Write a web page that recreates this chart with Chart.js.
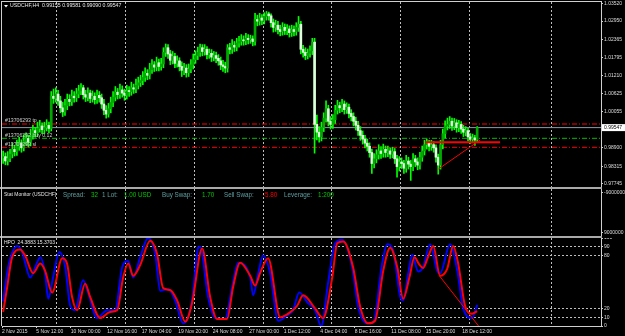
<!DOCTYPE html>
<html><head><meta charset="utf-8">
<script src="https://cdn.jsdelivr.net/npm/chart.js@4.4.1/dist/chart.umd.min.js"></script>
<style>
html,body{margin:0;padding:0;background:#000;width:625px;height:336px;overflow:hidden;position:relative}
canvas{position:absolute;left:0}
#cMain{top:0}#cStat{top:189px}#cHpo{top:238px}
.sep{position:absolute;left:0;width:602px;height:2px;background:#a9a9a9}
.fr{position:absolute;background:#cfcfcf}
</style></head><body>
<canvas id="cMain" width="625" height="187"></canvas>
<canvas id="cStat" width="625" height="47"></canvas>
<canvas id="cHpo" width="625" height="98"></canvas>
<div class="sep" style="top:187px"></div>
<div class="sep" style="top:236px"></div>
<div class="fr" style="left:1px;top:1px;width:601px;height:1px"></div>
<div class="fr" style="left:1px;top:1px;width:1px;height:325px"></div>
<script>
// ---------------- data ----------------
const barOpen = [
0.9858,0.9862,0.9848,0.9856,0.9870,0.9885,0.9878,0.9896,0.9905,0.9890,
0.9912,0.9920,0.9908,0.9930,0.9945,0.9938,0.9952,0.9960,0.9948,0.9955,
0.9962,0.9952,1.0055,1.0048,1.0062,1.0040,1.0018,1.0005,1.0025,1.0045,
1.0038,1.0055,1.0050,1.0062,1.0072,1.0082,1.0060,1.0052,1.0065,1.0048,
1.0055,1.0044,1.0058,1.0050,1.0030,1.0010,0.9998,1.0015,1.0035,1.0052,
1.0068,1.0060,1.0075,1.0065,1.0058,1.0072,1.0070,1.0082,1.0078,1.0090,
1.0098,1.0105,1.0115,1.0128,1.0122,1.0140,1.0155,1.0148,1.0162,1.0150,
1.0158,1.0195,1.0210,1.0190,1.0170,1.0182,1.0160,1.0168,1.0150,1.0138,
1.0145,1.0130,1.0142,1.0155,1.0172,1.0185,1.0195,1.0210,1.0198,1.0205,
1.0188,1.0192,1.0180,1.0185,1.0176,1.0168,1.0155,1.0150,1.0145,1.0210,
1.0205,1.0218,1.0212,1.0225,1.0230,1.0235,1.0232,1.0240,1.0236,1.0238,
1.0230,1.0300,1.0295,1.0305,1.0298,1.0310,1.0318,1.0312,1.0290,1.0275,
1.0282,1.0268,1.0262,1.0275,1.0265,1.0270,1.0258,1.0268,1.0262,1.0275,
1.0285,1.0205,1.0195,1.0185,1.0192,1.0200,1.0228,0.9965,0.9940,0.9925,
0.9955,0.9985,1.0015,0.9975,0.9965,0.9980,1.0010,1.0025,1.0018,1.0030,
1.0012,1.0020,1.0000,0.9990,0.9975,0.9962,0.9945,0.9930,0.9918,0.9905,
0.9895,0.9875,0.9840,0.9855,0.9868,0.9880,0.9872,0.9885,0.9875,0.9880,
0.9870,0.9878,0.9855,0.9830,0.9845,0.9840,0.9825,0.9848,0.9838,0.9830,
0.9855,0.9845,0.9835,0.9860,0.9880,0.9900,0.9905,0.9895,0.9900,0.9890,
0.9860,0.9835,0.9900,0.9935,0.9960,0.9965,0.9975,0.9960,0.9970,0.9955,
0.9965,0.9950,0.9940,0.9945,0.9925,0.9918,0.9922,0.99155];
const barHigh = [
0.9880,0.9874,0.9878,0.9885,0.9905,0.9898,0.9915,0.9924,0.9916,0.9932,
0.9938,0.9930,0.9950,0.9962,0.9955,0.9972,0.9978,0.9970,0.9972,0.9980,
0.9972,1.0070,1.0078,1.0082,1.0074,1.0055,1.0036,1.0045,1.0062,1.0060,
1.0075,1.0070,1.0080,1.0090,1.0095,1.0090,1.0074,1.0082,1.0075,1.0072,
1.0066,1.0075,1.0070,1.0062,1.0045,1.0025,1.0032,1.0052,1.0070,1.0086,
1.0080,1.0094,1.0088,1.0078,1.0090,1.0086,1.0100,1.0094,1.0110,1.0116,
1.0122,1.0134,1.0146,1.0140,1.0160,1.0172,1.0166,1.0180,1.0174,1.0176,
1.0210,1.0222,1.0220,1.0202,1.0198,1.0192,1.0184,1.0178,1.0165,1.0160,
1.0156,1.0158,1.0172,1.0190,1.0200,1.0212,1.0222,1.0220,1.0220,1.0214,
1.0206,1.0204,1.0198,1.0196,1.0188,1.0180,1.0170,1.0164,1.0220,1.0224,
1.0236,1.0230,1.0240,1.0246,1.0252,1.0248,1.0256,1.0252,1.0250,1.0248,
1.0320,1.0314,1.0320,1.0316,1.0322,1.0326,1.0324,1.0318,1.0302,1.0298,
1.0294,1.0282,1.0290,1.0286,1.0284,1.0280,1.0282,1.0280,1.0290,1.0310,
1.0294,1.0218,1.0210,1.0206,1.0216,1.0240,1.0240,0.9995,0.9958,0.9972,
1.0002,1.0040,1.0026,0.9990,0.9996,1.0026,1.0042,1.0036,1.0045,1.0040,
1.0034,1.0030,1.0012,1.0002,0.9988,0.9975,0.9958,0.9944,0.9930,0.9918,
0.9906,0.9886,0.9872,0.9884,0.9900,0.9894,0.9902,0.9896,0.9896,0.9890,
0.9892,0.9888,0.9866,0.9862,0.9858,0.9850,0.9866,0.9860,0.9850,0.9872,
0.9866,0.9858,0.9876,0.9896,0.9914,0.9918,0.9914,0.9914,0.9910,0.9900,
0.9870,0.9914,0.9950,0.9976,0.9985,0.9990,0.9985,0.9984,0.9980,0.9978,
0.9974,0.9962,0.9958,0.9952,0.9936,0.9934,0.9930,0.99581];
const barLow = [
0.9840,0.9836,0.9835,0.9846,0.9858,0.9864,0.9866,0.9882,0.9876,0.9880,
0.9898,0.9892,0.9896,0.9918,0.9924,0.9926,0.9940,0.9935,0.9936,0.9944,
0.9938,0.9944,1.0032,1.0036,1.0026,1.0002,0.9990,0.9994,1.0012,1.0024,
1.0026,1.0036,1.0038,1.0050,1.0060,1.0046,1.0038,1.0040,1.0034,1.0036,
1.0030,1.0032,1.0036,1.0016,0.9996,0.9985,0.9988,1.0002,1.0022,1.0040,
1.0046,1.0048,1.0052,1.0042,1.0046,1.0054,1.0058,1.0064,1.0066,1.0078,
1.0086,1.0092,1.0102,1.0108,1.0110,1.0128,1.0134,1.0136,1.0136,1.0138,
1.0146,1.0182,1.0176,1.0156,1.0158,1.0146,1.0148,1.0136,1.0118,1.0124,
1.0116,1.0118,1.0130,1.0142,1.0160,1.0172,1.0182,1.0184,1.0186,1.0174,
1.0176,1.0166,1.0168,1.0162,1.0154,1.0140,1.0134,1.0130,1.0132,1.0190,
1.0192,1.0198,1.0200,1.0212,1.0218,1.0218,1.0220,1.0222,1.0224,1.0216,
1.0218,1.0280,1.0282,1.0284,1.0286,1.0298,1.0298,1.0276,1.0260,1.0262,
1.0254,1.0248,1.0250,1.0252,1.0252,1.0244,1.0246,1.0248,1.0250,1.0262,
1.0190,1.0180,1.0172,1.0174,1.0180,1.0188,0.9873,0.9915,0.9908,0.9912,
0.9942,0.9972,0.9960,0.9950,0.9952,0.9968,0.9998,1.0002,1.0006,0.9998,
1.0000,0.9986,0.9976,0.9960,0.9947,0.9930,0.9914,0.9902,0.9890,0.9880,
0.9860,0.9808,0.9826,0.9842,0.9854,0.9856,0.9860,0.9860,0.9862,0.9856,
0.9858,0.9840,0.9796,0.9816,0.9824,0.9808,0.9812,0.9822,0.9786,0.9817,
0.9830,0.9820,0.9822,0.9847,0.9867,0.9886,0.9880,0.9882,0.9876,0.9844,
0.9806,0.9822,0.9887,0.9922,0.9947,0.9952,0.9946,0.9948,0.9940,0.9942,
0.9936,0.9926,0.9928,0.9912,0.9904,0.9906,0.9898,0.99090];
const barClose = [
0.9862,0.9848,0.9856,0.9870,0.9885,0.9878,0.9896,0.9905,0.9890,0.9912,
0.9920,0.9908,0.9930,0.9945,0.9938,0.9952,0.9960,0.9948,0.9955,0.9962,
0.9952,1.0055,1.0048,1.0062,1.0040,1.0018,1.0005,1.0025,1.0045,1.0038,
1.0055,1.0050,1.0062,1.0072,1.0082,1.0060,1.0052,1.0065,1.0048,1.0055,
1.0044,1.0058,1.0050,1.0030,1.0010,0.9998,1.0015,1.0035,1.0052,1.0068,
1.0060,1.0075,1.0065,1.0058,1.0072,1.0070,1.0082,1.0078,1.0090,1.0098,
1.0105,1.0115,1.0128,1.0122,1.0140,1.0155,1.0148,1.0162,1.0150,1.0158,
1.0195,1.0210,1.0190,1.0170,1.0182,1.0160,1.0168,1.0150,1.0138,1.0145,
1.0130,1.0142,1.0155,1.0172,1.0185,1.0195,1.0210,1.0198,1.0205,1.0188,
1.0192,1.0180,1.0185,1.0176,1.0168,1.0155,1.0150,1.0145,1.0210,1.0205,
1.0218,1.0212,1.0225,1.0230,1.0235,1.0232,1.0240,1.0236,1.0238,1.0230,
1.0300,1.0295,1.0305,1.0298,1.0310,1.0318,1.0312,1.0290,1.0275,1.0282,
1.0268,1.0262,1.0275,1.0265,1.0270,1.0258,1.0268,1.0262,1.0275,1.0285,
1.0205,1.0195,1.0185,1.0192,1.0200,1.0228,0.9965,0.9940,0.9925,0.9955,
0.9985,1.0015,0.9975,0.9965,0.9980,1.0010,1.0025,1.0018,1.0030,1.0012,
1.0020,1.0000,0.9990,0.9975,0.9962,0.9945,0.9930,0.9918,0.9905,0.9895,
0.9875,0.9840,0.9855,0.9868,0.9880,0.9872,0.9885,0.9875,0.9880,0.9870,
0.9878,0.9855,0.9830,0.9845,0.9840,0.9825,0.9848,0.9838,0.9830,0.9855,
0.9845,0.9835,0.9860,0.9880,0.9900,0.9905,0.9895,0.9900,0.9890,0.9860,
0.9835,0.9900,0.9935,0.9960,0.9965,0.9975,0.9960,0.9970,0.9955,0.9965,
0.9950,0.9940,0.9945,0.9925,0.9918,0.9922,0.99155,0.99547];

const priceTicks = [1.03520,1.02950,1.02365,1.01795,1.01210,1.00625,1.00055,0.99470,0.98900,0.98315,0.97745];
const weekGridBars = [23.5,53.5,83.5,113.5,143.5,173.5,203.5,239.5];
const timeTickBars = [-0.5,14.5,29.5,45.5,60.5,76.5,91.5,107.5,122.5,138.5,153.5,169.5,184.5,200.5];
const timeTickLabels = ['2 Nov 2015','5 Nov 12:00','10 Nov 00:00','12 Nov 16:00','17 Nov 04:00','19 Nov 20:00','24 Nov 08:00','27 Nov 00:00','1 Dec 12:00','4 Dec 04:00','8 Dec 16:00','11 Dec 08:00','15 Dec 20:00','18 Dec 12:00'];

const tpPrice = 0.99662, buyPrice = 0.99205, slPrice = 0.98917, bidPrice = 0.99547;
const orderLabels = ['#13706293 tp','#13706293 buy 0.12','#13706293 sl'];
const titleText = 'USDCHF,H4  0.99155 0.99581 0.99090 0.99547';
const mainTrendBars = [190.1,208.3], mainTrendPrices = [0.98224,0.99151];
const hLineBars = [184.3,217], hLinePrices = [0.99077,0.99077];

const statLabels = ['-9000000','9000000'];

const hpoTitle = 'HPO  24.3883 15.3703';
const hpoLevels = [0,10,20,80,90,100];
const hpoSignalBars = [0,1.7,3.9,7.4,9.6,13.1,16.2,18.3,21.4,25.8,27.9,30.1,32.3,35.8,38,42.4,46.7,49.8,52.4,54.6,56.8,59.8,64.2,67.2,69.9,72.9,76,79.5,82.5,86.9,90.4,93.4,97.8,100.4,103.5,107.9,110,112.2,115.7,121,124.5,128.4,131,136.2,139.7,143.7,145.9,148.5,152.8,155.9,159.4,162.4,166,169,172.1,174.7,177.4,179.6,181.7,183.4,185.5,187.8,190.8,193.9,196.5,198.7,201.7,204.8,207];
const hpoSignal = [16,43,78,87,80,60,71,63,38,77,71,33,18,48,33,9,16,18,55,71,57,69,97,82,43,41,29,5,26,88,33,8,8,44,72,57,46,60,77,10,14,23,35,20,9,55,94,96,67,22,3,6,63,89,67,31,55,78,70,66,78,91,57,65,91,71,23,14,17];
const hpoMainBars = [0,2.2,3.9,6.1,8.3,9.6,11.8,14.8,16.2,18.3,19.7,21.8,24.5,27.1,29.3,31.4,34.9,37.1,41,45.4,48.9,52,54.6,56.8,59.8,63.3,66.4,68.6,72.1,75.1,78.6,82.5,85.2,86,89.5,92.6,96.9,100,102.6,107.9,109.2,111.4,113.5,116.6,120.1,124,126.6,129.3,132.8,136.2,138.9,141.9,145,148,152.4,155,159,161.6,165.5,167.7,170.3,173.4,174.7,176.9,178.6,181.2,183.4,186.5,189.5,190.8,195.2,198.3,200.9,204.8,207];
const hpoMain = [28,67,83,91,84,72,55,72,78,60,31,55,84,67,23,18,52,38,9,18,18,67,74,55,78,100,82,40,42,29,3,29,89,90,33,9,8,44,72,55,35,60,80,60,6,12,18,38,27,18,0,49,94,98,67,22,3,4,71,93,86,33,29,60,81,62,67,93,63,60,93,63,20,9,24];
const hpoTrendBars = [190.5,207.6], hpoTrendVals = [57,0];

// ---------------- style ----------------
const FONT = "'Liberation Sans', Arial, sans-serif";
const XMIN = -0.5, XMAX = 261.07;
const frameColor = '#cfcfcf', gridColor = '#bdbdbd', labelColor = '#dedede';
const wickColor = '#00ff00', bullBody = '#00a800', bearBody = '#dcffdc';

function xGrid() {
  return { type:'linear', min:XMIN, max:XMAX, offset:false,
    ticks:{display:false},
    grid:{display:true, drawOnChartArea:true, drawTicks:false, color:gridColor, lineWidth:1, offset:false},
    border:{display:false, dash:[2,2]},
    afterBuildTicks:s=>{ s.ticks = weekGridBars.map(v=>({value:v})); },
    afterFit:s=>{ s.height=0; s.paddingLeft=0; s.paddingRight=0; } };
}
function yRight(min, max, values, cb) {
  return { type:'linear', position:'right', min, max,
    afterBuildTicks:s=>{ s.ticks = values.map(v=>({value:v})); },
    ticks:{color:labelColor, font:{family:FONT,size:5}, padding:1, autoSkip:false, callback:cb},
    grid:{drawOnChartArea:false, drawTicks:true, tickLength:2, tickColor:frameColor},
    border:{display:true, color:frameColor, width:1},
    afterFit:s=>{ s.width=24; s.paddingTop=0; s.paddingBottom=0; } };
}
const pts = (xs, ys) => xs.map((x,i)=>({x, y:ys[i]}));
const flat = (p) => [{x:XMIN,y:p},{x:XMAX,y:p}];
const base = { responsive:false, animation:false, devicePixelRatio:1, events:[],
  plugins:{legend:{display:false}, tooltip:{enabled:false}} };

// ---------------- main price chart ----------------
const mainText = { id:'mainText',
  afterDraw(chart){
    const c = chart.ctx, ys = chart.scales.y;
    c.save();
    c.textBaseline = 'middle';
    c.fillStyle = '#ffffff';
    c.beginPath(); c.moveTo(4,5); c.lineTo(8,5); c.lineTo(6,7.5); c.closePath(); c.fill();
    c.font = '5.2px ' + FONT; c.fillStyle = '#e8e8e8';
    c.fillText(titleText, 10, 6);
    c.fillStyle = '#cfcfcf';
    [tpPrice, buyPrice, slPrice].forEach((p,i)=>{ c.fillText(orderLabels[i], 5, ys.getPixelForValue(p) - 3); });
    const py = ys.getPixelForValue(bidPrice);
    c.fillStyle = '#ffffff'; c.fillRect(602, py-3.5, 23, 7);
    c.fillStyle = '#000000'; c.font = '5px ' + FONT;
    c.fillText(bidPrice.toFixed(5), 604, py);
    c.restore();
  } };

new Chart(document.getElementById('cMain'), {
  type:'bar',
  data:{ datasets:[
    { type:'line', data:pts(hLineBars, hLinePrices), borderColor:'#ff0000', borderWidth:2, pointRadius:0, order:0 },
    { type:'line', data:pts(mainTrendBars, mainTrendPrices), borderColor:'#ff0000', borderWidth:1, pointRadius:0, order:0 },
    { type:'bar', data:barOpen.map((o,i)=>({x:i, y:[o, barClose[i]]})), grouped:false, barThickness:2, minBarLength:1, borderWidth:0,
      backgroundColor:ctx=> barClose[ctx.dataIndex] >= barOpen[ctx.dataIndex] ? bullBody : bearBody, order:1 },
    { type:'bar', data:barLow.map((l,i)=>({x:i, y:[l, barHigh[i]]})), grouped:false, barThickness:1, borderWidth:0,
      backgroundColor:wickColor, order:2 },
    { type:'line', data:flat(tpPrice), borderColor:'#ff0000', borderWidth:1, borderDash:[5,2,1,2], pointRadius:0, order:3 },
    { type:'line', data:flat(bidPrice), borderColor:'#8a9aa8', borderWidth:1, pointRadius:0, order:3 },
    { type:'line', data:flat(buyPrice), borderColor:'#00c000', borderWidth:1, borderDash:[5,2,1,2], pointRadius:0, order:3 },
    { type:'line', data:flat(slPrice), borderColor:'#ff0000', borderWidth:1, borderDash:[5,2,1,2], pointRadius:0, order:3 }
  ]},
  options:Object.assign({}, base, {
    layout:{padding:{left:2, top:2, right:0, bottom:0}},
    scales:{ x:xGrid(), y:yRight(0.97649, 1.03561, priceTicks, v=>v.toFixed(5)) }
  }),
  plugins:[mainText]
});

// ---------------- stat monitor panel ----------------
const statText = { id:'statText',
  afterDraw(chart){
    const c = chart.ctx; c.save(); c.textBaseline = 'middle';
    const lab = '#5f9ea0', val = '#00c800';
    c.font = '5px ' + FONT; c.fillStyle = '#e0e0e0'; c.fillText('Stat Monitor (USDCHF)', 4, 6);
    c.font = '6.3px ' + FONT;
    [['Spread:',63,lab],['32',91,val],['1 Lot:',102,lab],['1.00 USD',124,val],['Buy Swap:',162,lab],['1.70',202,val],
     ['Sell Swap:',224,lab],['-5.80',263,'#ff0000'],['Leverage:',284,lab],['1:200',318,val]]
      .forEach(t=>{ c.fillStyle = t[2]; c.fillText(t[0], t[1], 6); });
    c.restore();
  } };
new Chart(document.getElementById('cStat'), {
  type:'line', data:{datasets:[]},
  options:Object.assign({}, base, {
    layout:{padding:{left:2, top:0, right:0, bottom:0}},
    scales:{ x:xGrid(), y:yRight(0, 1, [0.93, 0.07], (v,i)=>statLabels[i]) }
  }),
  plugins:[statText]
});

// ---------------- HPO panel ----------------
const hpoText = { id:'hpoText',
  afterDraw(chart){
    const c = chart.ctx; c.save(); c.textBaseline='middle';
    c.font = '5px ' + FONT; c.fillStyle = '#e8e8e8'; c.fillText(hpoTitle, 4, 5);
    c.restore();
  } };
const hpoY = yRight(0, 100, hpoLevels, v=>String(v));
hpoY.grid = { drawOnChartArea:true, drawTicks:true, tickLength:2, tickColor:frameColor,
  color:ctx=> (ctx.tick && [10,20,80,90].includes(ctx.tick.value)) ? gridColor : 'rgba(0,0,0,0)' };
hpoY.border = { display:true, color:frameColor, width:1, dash:[2,2] };
new Chart(document.getElementById('cHpo'), {
  type:'line',
  data:{ datasets:[
    { data:pts(hpoTrendBars, hpoTrendVals), borderColor:'#ff0000', borderWidth:1, pointRadius:0, order:0 },
    { data:pts(hpoSignalBars, hpoSignal), borderColor:'#ff0000', borderWidth:2, pointRadius:0, cubicInterpolationMode:'monotone', order:1 },
    { data:pts(hpoMainBars, hpoMain), borderColor:'#0000ff', borderWidth:2, pointRadius:0, cubicInterpolationMode:'monotone', order:2 }
  ]},
  options:Object.assign({}, base, {
    layout:{padding:{left:2, top:0, right:0, bottom:0}},
    scales:{
      x:xGrid(),
      xt:{ type:'linear', position:'bottom', min:XMIN, max:XMAX, offset:false,
        afterBuildTicks:s=>{ s.ticks = timeTickBars.map(v=>({value:v})); },
        ticks:{color:labelColor, font:{family:FONT,size:5}, padding:1, align:'start', maxRotation:0, autoSkip:false, callback:(v,i)=>timeTickLabels[i]},
        grid:{drawOnChartArea:false, drawTicks:true, tickLength:2, tickColor:frameColor},
        border:{display:true, color:frameColor},
        afterFit:s=>{ s.height=10; s.paddingLeft=0; s.paddingRight=0; } },
      y:hpoY
    }
  }),
  plugins:[hpoText]
});
</script>
</body></html>
